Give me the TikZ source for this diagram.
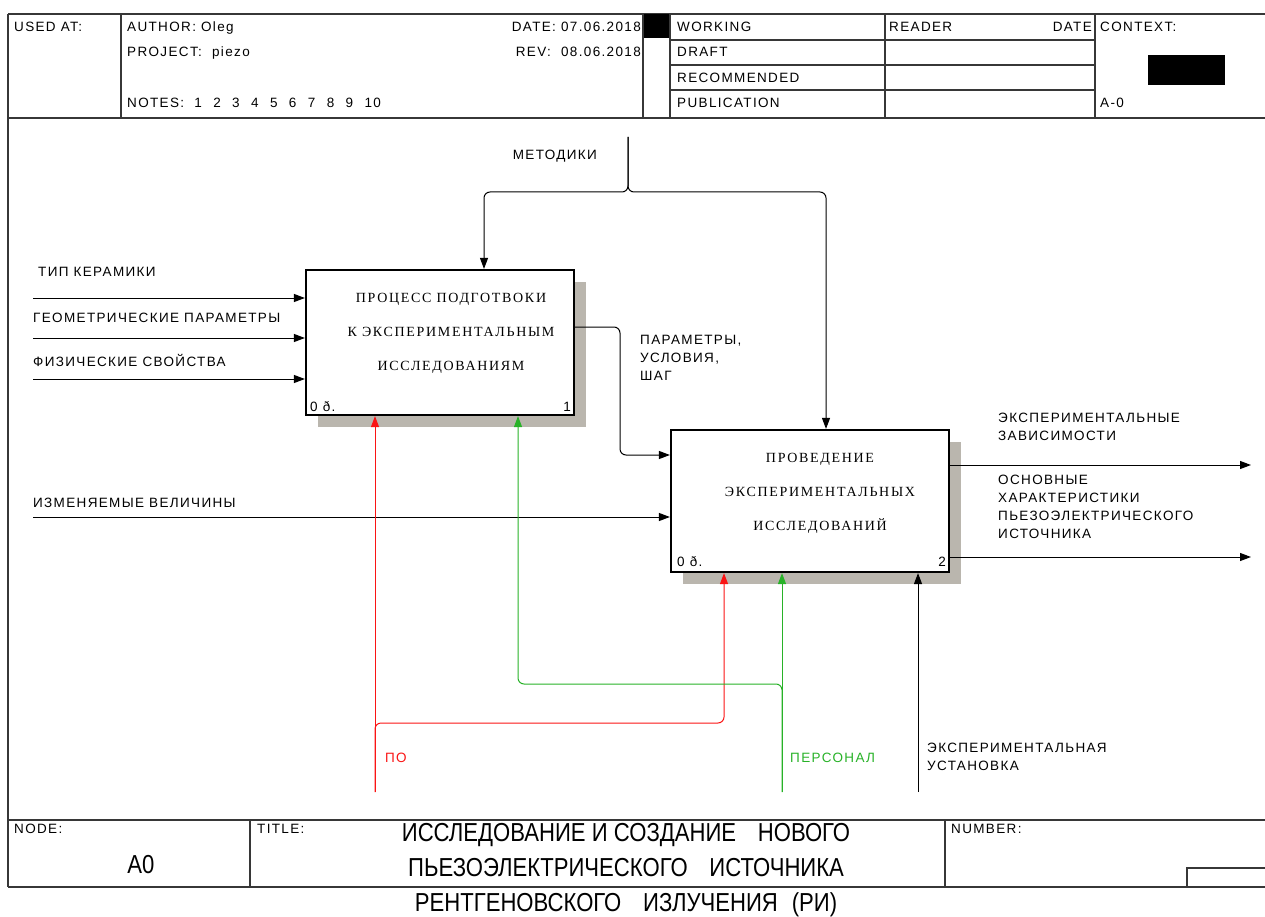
\documentclass[tikz,border=0pt]{standalone}
\usepackage{fontspec}
\setmainfont{Liberation Sans}
\newfontfamily\idefsans{Liberation Sans}[LetterSpace=10]
\newfontfamily\idefserif{Liberation Serif}[LetterSpace=12]
\newfontfamily\idefnarrow{Liberation Sans}[FakeStretch=0.85]
\usetikzlibrary{arrows.meta,shadows}
\definecolor{shadowgray}{RGB}{186,182,174}
\definecolor{mechred}{RGB}{250,20,20}
\definecolor{mechgreen}{RGB}{40,178,40}
\definecolor{framegray}{RGB}{55,55,55}
\newcommand{\notegap}{~~\hspace{1.2pt}}

\begin{document}
\begin{tikzpicture}[x=1pt,y=-1pt,
  frameline/.style={line width=1.3pt, draw=framegray},
  txt/.style={font=\idefsans\fontsize{13.5}{18}\selectfont, inner sep=0pt,
    text height=9.7pt, text depth=0pt, anchor=west},
  mtxt/.style={font=\idefsans\fontsize{13.5}{18}\selectfont, inner sep=0pt,
    anchor=north west, align=left},
  bigtxt/.style={font=\idefnarrow\fontsize{26}{35}\selectfont, inner sep=0pt},
  func/.style={draw, line width=2.2pt, fill=white, inner sep=0pt,
    general shadow={fill=shadowgray, draw=none, shadow xshift=12pt, shadow yshift=-12pt}},
  functext/.style={font=\idefserif\fontsize{14}{34}\selectfont, align=center, inner sep=0pt},
  conn/.style={line width=1pt, rounded corners=6pt},
  tip/.style={-{Triangle[length=11pt,width=8pt]}},
  redtip/.style={draw=mechred, -{Triangle[length=11pt,width=8pt,fill=mechred]}},
  greentip/.style={draw=mechgreen, -{Triangle[length=11pt,width=8pt,fill=mechgreen]}}
]
\useasboundingbox (0,0) rectangle (1265,917);

% ---------- header frame ----------
\draw[frameline] (8,14) -- (1265,14);
\draw[frameline] (8,118) -- (1265,118);
\draw[frameline] (8,14) -- (8,887);
\draw[frameline] (121,14) -- (121,118);
\draw[frameline] (643,14) -- (643,118);
\draw[frameline] (670,14) -- (670,118);
\draw[frameline] (885,14) -- (885,118);
\draw[frameline] (1095,14) -- (1095,118);
\foreach \yy in {40,65,90} \draw[frameline] (670,\yy) -- (1095,\yy);
\fill[black] (644,14) rectangle (669,38);
\fill[black] (1148,55) rectangle (1225,85);

\node[txt] (usedat) at (14,27) {USED AT:};
\node[txt] (author) at (127,27) {AUTHOR: Oleg};
\node[txt] (project) at (127,52) {PROJECT:~~piezo};
\node[txt] (notes) at (127,103) {NOTES:~~1\notegap 2\notegap 3\notegap 4\notegap 5\notegap 6\notegap 7\notegap 8\notegap 9\notegap 10};
\node[txt, anchor=east] (date) at (641,27) {DATE: 07.06.2018};
\node[txt, anchor=east] (rev) at (641,52) {REV:~~08.06.2018};
\node[txt] (working) at (677,27) {WORKING};
\node[txt] (draft) at (677,52) {DRAFT};
\node[txt] (recommended) at (677,78) {RECOMMENDED};
\node[txt] (publication) at (677,103) {PUBLICATION};
\node[txt] (reader) at (889,27) {READER};
\node[txt, anchor=east] (rdate) at (1092,27) {DATE};
\node[txt] (context) at (1100,27) {CONTEXT:};
\node[txt] (anode) at (1100,103) {A-0};

% ---------- footer frame ----------
\draw[frameline] (8,820) -- (1265,820);
\draw[frameline] (8,887) -- (1265,887);
\draw[frameline] (250,820) -- (250,887);
\draw[frameline] (945,820) -- (945,887);
\draw[frameline] (1187,887) -- (1187,868) -- (1265,868);

\node[txt] (nodelbl) at (14,829) {NODE:};
\node[txt] (titlelbl) at (257,829) {TITLE:};
\node[txt] (numberlbl) at (951,829) {NUMBER:};
\node[bigtxt] (nodeid) at (141,865) {A0};
\node[bigtxt, anchor=north, align=center] (title) at (626,823)
  {ИССЛЕДОВАНИЕ И СОЗДАНИЕ\hspace{0.6em} НОВОГО\\
   ПЬЕЗОЭЛЕКТРИЧЕСКОГО\hspace{0.6em} ИСТОЧНИКА\\
   РЕНТГЕНОВСКОГО\hspace{0.6em} ИЗЛУЧЕНИЯ\hspace{0.3em} (РИ)};

% ---------- function boxes ----------
\node[func, minimum width=268pt, minimum height=145pt] (p1) at (440,342.5) {};
\node[functext] (p1text) at (451,333)
  {ПРОЦЕСС ПОДГОТВОКИ\\К ЭКСПЕРИМЕНТАЛЬНЫМ\\ИССЛЕДОВАНИЯМ};
\node[txt] (p1cost) at (310,407) {0 ð.};
\node[txt, anchor=east] (p1num) at (571,407) {1};

\node[func, minimum width=278pt, minimum height=142pt] (p2) at (810,501) {};
\node[functext] (p2text) at (820,493)
  {ПРОВЕДЕНИЕ\\ЭКСПЕРИМЕНТАЛЬНЫХ\\ИССЛЕДОВАНИЙ};
\node[txt] (p2cost) at (677,562) {0 ð.};
\node[txt, anchor=east] (p2num) at (946,562) {2};

% ---------- inputs ----------
\coordinate (in1) at (33,298);
\coordinate (in2) at (33,338);
\coordinate (in3) at (33,379);
\coordinate (in4) at (33,517);
\draw[conn,tip] (in1) -- (in1 -| p1.west);
\draw[conn,tip] (in2) -- (in2 -| p1.west);
\draw[conn,tip] (in3) -- (in3 -| p1.west);
\draw[conn,tip] (in4) -- (in4 -| p2.west);
\node[txt] (l-in1) at (38,272) {ТИП КЕРАМИКИ};
\node[txt] (l-in2) at (33,318) {ГЕОМЕТРИЧЕСКИЕ ПАРАМЕТРЫ};
\node[txt] (l-in3) at (33,362) {ФИЗИЧЕСКИЕ СВОЙСТВА};
\node[txt] (l-in4) at (33,503) {ИЗМЕНЯЕМЫЕ ВЕЛИЧИНЫ};

% ---------- box 1 -> box 2 ----------
\coordinate (p1out) at (574,327);
\draw[conn,tip] (p1.east |- p1out) -- (620,327) -- (620,455) -- (p2.west |- 0,455);
\node[mtxt] (l-par) at (640,335) {ПАРАМЕТРЫ,\\УСЛОВИЯ,\\ШАГ};

% ---------- control ----------
\coordinate (ctl) at (628,137);
\draw[conn,tip] (ctl) -- (628,192) -- (484,192) -- (p1.north -| 484,0);
\draw[conn,tip] (ctl) -- (628,192) -- (826,192) -- (p2.north -| 826,0);
\node[txt, anchor=east] (l-ctl) at (597,155) {МЕТОДИКИ};

% ---------- outputs ----------
\coordinate (out1) at (1251,465);
\coordinate (out2) at (1251,557);
\draw[conn,tip] (p2.east |- out1) -- (out1);
\draw[conn,tip] (p2.east |- out2) -- (out2);
\node[mtxt] (l-out1) at (998,413) {ЭКСПЕРИМЕНТАЛЬНЫЕ\\ЗАВИСИМОСТИ};
\node[mtxt] (l-out2) at (998,475) {ОСНОВНЫЕ\\ХАРАКТЕРИСТИКИ\\ПЬЕЗОЭЛЕКТРИЧЕСКОГО\\ИСТОЧНИКА};

% ---------- mechanisms ----------
\coordinate (mpo) at (375,792);
\draw[conn,redtip] (mpo) -- (mpo |- p1.south);
\draw[conn,redtip] (mpo) -- (375,723) -- (724,723) -- (p2.south -| 724,0);
\node[txt, text=mechred] (l-po) at (385,758) {ПО};

\coordinate (mpers) at (782,792);
\draw[conn,greentip] (mpers) -- (mpers |- p2.south);
\draw[conn,greentip] (mpers) -- (782,684) -- (518,684) -- (p1.south -| 518,0);
\node[txt, text=mechgreen] (l-pers) at (790,758) {ПЕРСОНАЛ};

\coordinate (mset) at (918,792);
\draw[conn,tip] (mset) -- (mset |- p2.south);
\node[mtxt] (l-set) at (927,743) {ЭКСПЕРИМЕНТАЛЬНАЯ\\УСТАНОВКА};
\end{tikzpicture}
\end{document}
